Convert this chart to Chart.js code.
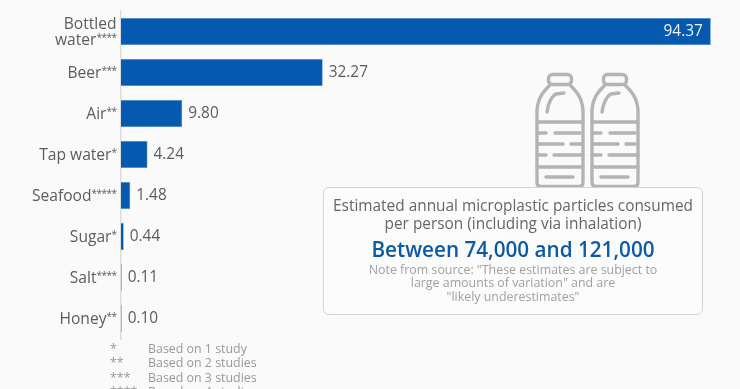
<!DOCTYPE html>
<html><head><meta charset="utf-8">
<script src="https://cdn.jsdelivr.net/npm/chart.js@4"></script>
<style>
html,body{margin:0;padding:0;width:740px;height:389px;overflow:hidden;background:#fafafa;font-family:"Open Sans",sans-serif}
#wrap{position:relative;width:740px;height:389px;overflow:hidden}
canvas{position:absolute;left:0;top:0}
.fn{position:absolute;font-size:12.4px;line-height:14px;color:#999;white-space:nowrap}
#box{position:absolute;left:323px;top:187px;width:378px;height:126px;border:1px solid #d4d4d4;border-radius:6px;background:#fcfcfc;text-align:center;box-sizing:content-box}
#box div{position:absolute;left:0;right:0;white-space:nowrap}
#t1{top:9px;font-size:15.4px;line-height:17.5px;color:#666}
#t2{top:48px;font-size:20.7px;line-height:26px;font-weight:600;color:#0b5aa6}
#t3{top:75px;font-size:12.4px;line-height:13.3px;color:#a0a0a0}
#t3 span{display:block}
#bottles{position:absolute;left:500px;top:60px}
</style></head><body>
<div id="wrap">
<svg id="bottles" width="170" height="130" viewBox="0 0 170 130" fill="none" stroke="#b4b4b4" stroke-width="3.4" stroke-linecap="round" stroke-linejoin="round">
<defs><g id="b">
<rect x="48.500" y="14.500" width="23" height="10" rx="4"/>
<path d="M50 25 C44 31 38 37 37 50 L37 122 Q37 126.500 41 126.500 L79 126.500 Q83 126.500 83 122 L83 50 C82 37 76 31 70 25"/>
<path d="M37 62 H83 M37 107 H83"/>
<path d="M37 73 H46 M55 73 H80 M37 84 H63 M71 84 H83 M37 95 H46 M54 95 H83 M46 117 H73 M47 52 C48 43 52 36 56 34 L64 33"/>
</g></defs>
<use href="#b"/><use href="#b" x="55"/>
</svg>
<canvas id="c" width="740" height="389"></canvas>
<div id="box">
<div id="t1">Estimated annual microplastic particles consumed<br>per person (including via inhalation)</div>
<div id="t2">Between 74,000 and 121,000</div>
<div id="t3"><span>Note from source: "These estimates are subject to</span><span>large amounts of variation" and are</span><span>"likely underestimates"</span></div>
</div>
<div id="notes"></div>
</div>
<script>
const categories=[["Bottled","water****"],"Beer***","Air**","Tap water*","Seafood*****","Sugar*","Salt****","Honey**"];
const values=[94.37,32.27,9.80,4.24,1.48,0.44,0.11,0.10];
const valueLabels=["94.37","32.27","9.80","4.24","1.48","0.44","0.11","0.10"];
const noteMarks=["*","**","***","****"];
const noteTexts=["Based on 1 study","Based on 2 studies","Based on 3 studies","Based on 4 studies"];

const notes=document.getElementById('notes');
noteMarks.forEach((m,i)=>{
  const top=341.5+i*14.6;
  notes.insertAdjacentHTML('beforeend',`<div class="fn" style="left:110px;top:${top}px">${m}</div><div class="fn" style="left:148px;top:${top}px">${noteTexts[i]}</div>`);
});

const FONT='"Open Sans"';
function drawLabelLine(ctx,line,xRight,y){
  const m=line.match(/^(.*?)(\*+)$/);
  const name=m?m[1]:line, stars=m?m[2]:'';
  ctx.font='10px '+FONT;
  ctx.letterSpacing='-0.5px';
  const sw=ctx.measureText(stars).width;
  ctx.fillStyle='#5c5c5c';
  ctx.textAlign='right';
  ctx.fillText(stars,xRight,y-2.5);
  ctx.letterSpacing='0px';
  ctx.font='15.6px '+FONT;
  ctx.fillText(name,xRight-sw,y);
}
const labelPlugin={id:'starLabels',afterDraw(chart){
  const ctx=chart.ctx,s=chart.scales.y;
  ctx.save();ctx.textBaseline='middle';
  chart.data.labels.forEach((lab,i)=>{
    const y=s.getPixelForValue(i);
    const lines=Array.isArray(lab)?lab:[lab];
    lines.forEach((ln,k)=>drawLabelLine(ctx,ln,s.right-4.5,y+1+(k-(lines.length-1)/2)*16));
  });
  ctx.restore();
}};
const valueLabelPlugin={id:'valueLabels',afterDatasetsDraw(chart){
  const ctx=chart.ctx,meta=chart.getDatasetMeta(0);
  ctx.save();ctx.font='15.4px '+FONT;ctx.textBaseline='middle';
  meta.data.forEach((bar,i)=>{
    const inside=values[i]>50;
    ctx.fillStyle=inside?'#f2f2f2':'#5c5c5c';
    ctx.textAlign=inside?'right':'left';
    ctx.fillText(valueLabels[i],inside?bar.x-8:bar.x+6,bar.y+0.5);
  });
  ctx.restore();
}};

new Chart(document.getElementById('c'),{
  type:'bar',
  data:{labels:categories,datasets:[{data:values,backgroundColor:'#0559ae',borderColor:'#4d8fd0',borderWidth:0.6,barPercentage:0.66,categoryPercentage:1}]},
  options:{
    indexAxis:'y',responsive:false,animation:false,
    layout:{padding:{left:0,top:11,right:29,bottom:50}},
    plugins:{legend:{display:false},tooltip:{enabled:false}},
    scales:{
      x:{display:false,min:0,max:94.4},
      y:{
        afterFit(s){s.width=121},
        grid:{display:false,drawTicks:false},
        border:{display:true,color:'#dcdcdc',width:1.5},
        ticks:{display:false,autoSkip:false}
      }
    }
  },
  plugins:[valueLabelPlugin,labelPlugin]
});
</script>
</body></html>
